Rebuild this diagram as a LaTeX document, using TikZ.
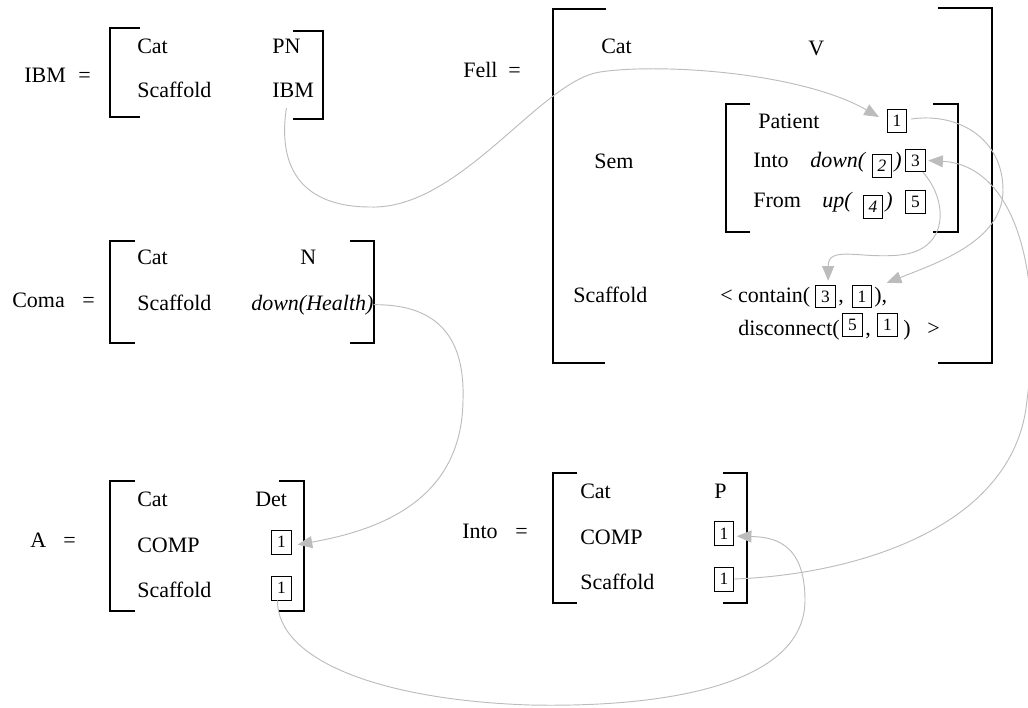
\documentclass[tikz,border=0pt]{standalone}
\usepackage{fontspec}
\setmainfont{Liberation Serif}
\usetikzlibrary{arrows.meta}
\definecolor{linkgray}{RGB}{188,188,188}

\begin{document}
\begin{tikzpicture}[x=0.75pt,y=-0.75pt,every node/.style={font=\fontsize{16.5}{19}\selectfont},
    lbl/.style={anchor=base west,inner sep=0pt},
    idx/.style={draw,line width=0.6pt,inner sep=0pt,minimum width=14.5pt,minimum height=17pt,font=\fontsize{13}{13}\selectfont},
    brk/.style={line width=1pt},
    link/.style={draw=linkgray,line width=0.7pt,-{Triangle[length=11pt,width=9pt]}}]
            \useasboundingbox (0,0) rectangle (1028,707);
            \node[lbl] (ibm) at (24,82) {IBM};
            \node[lbl] (ibmeq) at (78,82) {=};
            \node[lbl] (ibmcat) at (137,53) {Cat};
            \node[lbl] (ibmpn) at (272,53) {PN};
            \node[lbl] (ibmscf) at (137,97) {Scaffold};
            \node[lbl] (ibmval) at (272,97) {IBM};
            \draw[brk] (140,28) -- (110,28) -- (110,117) -- (140,117);
            \draw[brk] (293,31) -- (323,31) -- (323,119) -- (293,119);
            \node[lbl] (fell) at (463,77) {Fell};
            \node[lbl] (felleq) at (508,77) {=};
            \node[lbl] (fellcat) at (601,53) {Cat};
            \node[lbl] (fellv) at (808,55) {V};
            \node[lbl] (fellsem) at (594,168) {Sem};
            \node[lbl] (patient) at (758,128) {Patient};
            \node[idx] (p1) at (897,121) {1};
            \node[lbl] (semin) at (753,167) {Into};
            \node[lbl] (down) at (810,167) {\textit{down(}};
            \node[idx] (b2) at (882,166) {\textit{2}};
            \node[lbl] (downr) at (894,167) {\textit{)}};
            \node[idx] (b3) at (915.5,160.5) {3};
            \node[lbl] (semfrom) at (753,207) {From};
            \node[lbl] (up) at (822,207) {\textit{up(}};
            \node[idx] (b4) at (873,207) {\textit{4}};
            \node[lbl] (upr) at (885,207) {\textit{)}};
            \node[idx] (b5) at (915.5,202) {5};
            \node[lbl] (fellscf) at (573,302) {Scaffold};
            \node[lbl] (contain) at (720,302) {< contain(};
            \node[idx] (c3) at (825.5,296.5) {3};
            \node[lbl] (comma1) at (838,302) {,};
            \node[idx] (c1) at (862,296.5) {1};
            \node[lbl] (containr) at (874,302) {),};
            \node[lbl] (disc) at (738,335) {disconnect(};
            \node[idx] (d5) at (852.5,325) {5};
            \node[lbl] (comma2) at (865,335) {,};
            \node[idx] (d1) at (887.5,325) {1};
            \node[lbl] (discr) at (903,335) {)};
            \node[lbl] (gt) at (927,335) {>};
            \draw[brk] (606,9) -- (553,9) -- (553,363) -- (605,363);
            \draw[brk] (938,8) -- (992,8) -- (992,363) -- (938,363);
            \draw[brk] (750,104) -- (726,104) -- (726,232) -- (750,232);
            \draw[brk] (933,104) -- (958,104) -- (958,232) -- (933,232);
            \node[lbl] (coma) at (12,307) {Coma};
            \node[lbl] (comaeq) at (82,307) {=};
            \node[lbl] (comacat) at (137,264) {Cat};
            \node[lbl] (coman) at (300,264) {N};
            \node[lbl] (comascf) at (137,310) {Scaffold};
            \node[lbl] (health) at (251,310) {\textit{down(Health)}};
            \draw[brk] (135,241) -- (110,241) -- (110,343) -- (135,343);
            \draw[brk] (350,241) -- (374,241) -- (374,343) -- (350,343);
            \node[lbl] (a) at (30,547) {A};
            \node[lbl] (aeq) at (63,547) {=};
            \node[lbl] (acat) at (137,506) {Cat};
            \node[lbl] (adet) at (255,506) {Det};
            \node[lbl] (acomp) at (137,552) {COMP};
            \node[idx,minimum height=18pt] (a1) at (281.5,542) {1};
            \node[lbl] (ascf) at (137,597) {Scaffold};
            \node[idx,minimum height=18pt] (a2) at (281.5,588) {1};
            \draw[brk] (135,481) -- (110,481) -- (110,611) -- (135,611);
            \draw[brk] (279,481) -- (304,481) -- (304,611) -- (279,611);
            \node[lbl] (into) at (462,538) {Into};
            \node[lbl] (intoeq) at (515,538) {=};
            \node[lbl] (intocat) at (580,498) {Cat};
            \node[lbl] (intop) at (714,498) {P};
            \node[lbl] (intocomp) at (580,544) {COMP};
            \node[idx,minimum height=18pt] (i1) at (724,533.5) {1};
            \node[lbl] (intoscf) at (580,589) {Scaffold};
            \node[idx,minimum height=18pt] (i2) at (724,579) {1};
            \draw[brk] (577,473) -- (553,473) -- (553,603) -- (577,603);
            \draw[brk] (723,473) -- (747,473) -- (747,603) -- (723,603);
            \draw[link] ([xshift=-5pt,yshift=-8pt]ibmval.south) .. controls (275,185) and (320,207) .. (370,207) .. controls (460,210) and (540,81) .. (600,72) .. controls (660,63) and (800,72) .. ([xshift=-6pt,yshift=3pt]p1.west);
            \draw[link] ([xshift=3pt,yshift=1.5pt]p1.east) .. controls (960,112) and (1003,140) .. (1003,190) .. controls (1003,240) and (940,262) .. ([xshift=11pt,yshift=1.5pt]c1.north east);
            \draw[link] (i2.east) .. controls (850,575) and (1015,530) .. (1027,400) .. controls (1045,260) and (1010,165) .. ([xshift=2pt]b3.east);
            \draw[link] ([xshift=-2pt]b3.south east) .. controls (948,200) and (950,250) .. (900,255) .. controls (860,259) and (828,245) .. ([xshift=2pt,yshift=3pt]c3.north);
            \draw[link] (health.east) .. controls (440,304) and (465,340) .. (463,400) .. controls (462,500) and (380,530) .. ([xshift=4.5pt,yshift=-2pt]a1.east);
            \draw[link] ([xshift=-3pt]a2.south) .. controls (277,660) and (380,700) .. (530,705) .. controls (680,708) and (805,680) .. (805,600) .. controls (805,540) and (770,537) .. ([xshift=2pt,yshift=-2pt]i1.east);
        \end{tikzpicture}
\end{document}
